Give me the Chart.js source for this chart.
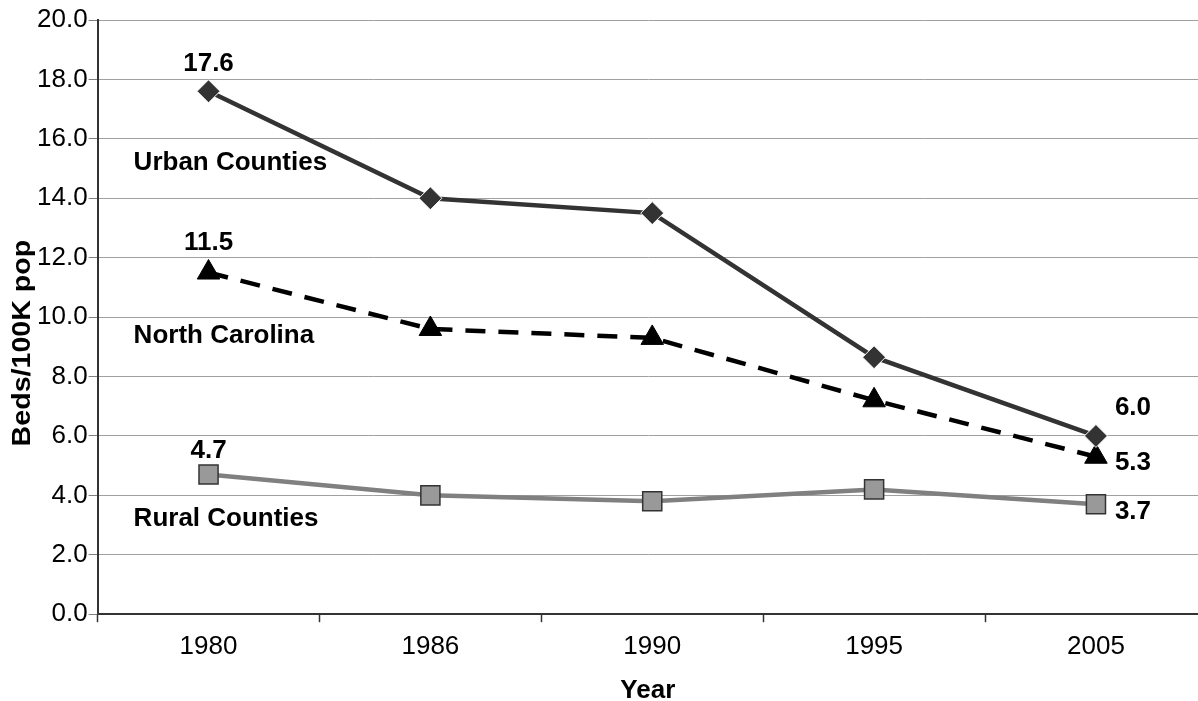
<!DOCTYPE html>
<html lang="en">
<head>
<meta charset="UTF-8">
<title>Beds per 100K population</title>
<script src="https://cdn.jsdelivr.net/npm/chart.js@4.4.0/dist/chart.umd.min.js"></script>
<style>
  html, body { margin: 0; padding: 0; background: #fff; overflow: hidden; }
  #wrap { position: relative; width: 1198px; height: 701px; }
  canvas { display: block; }
</style>
</head>
<body>
<div id="wrap"><canvas id="canvas"></canvas></div>
<script>
    const years = ["1980", "1986", "1990", "1995", "2005"];
    const urban = [17.6, 14.0, 13.5, 8.65, 6.0];
    const northCarolina = [11.5, 9.6, 9.3, 7.2, 5.3];
    const rural = [4.7, 4.0, 3.8, 4.2, 3.7];
    const yTicks = [0, 2, 4, 6, 8, 10, 12, 14, 16, 18, 20];

    const FONT = '"Liberation Sans", Arial, sans-serif';

    function toPoints(values) {
        return values.map((v, i) => ({x: i, y: v}));
    }

    // value labels at both ends of each line + series name on the left
    const labelPlugin = {
        id: 'lineLabels',
        afterDatasetsDraw(chart) {
            const ctx = chart.ctx;
            const area = chart.chartArea;
            const yScale = chart.scales.y;
            ctx.save();
            ctx.font = 'bold 26px ' + FONT;
            ctx.fillStyle = '#000';
            ctx.textBaseline = 'middle';
            chart.data.datasets.forEach((ds, i) => {
                const pts = chart.getDatasetMeta(i).data;
                const first = pts[0];
                const last = pts[pts.length - 1];
                ctx.textAlign = 'center';
                ctx.fillText(ds.data[0].y.toFixed(1), first.x, first.y + ds.startDy);
                ctx.fillText(ds.data[ds.data.length - 1].y.toFixed(1), last.x + 37, last.y + ds.endDy);
                ctx.textAlign = 'left';
                ctx.fillText(ds.label, area.left + 36, yScale.getPixelForValue(ds.nameAt));
            });
            ctx.restore();
        },
        // y title sits a bit below the axis middle, like the original
        afterDraw(chart) {
            const ctx = chart.ctx;
            const area = chart.chartArea;
            ctx.save();
            ctx.translate(23, area.top + (area.bottom - area.top) / 2 + 26);
            ctx.rotate(-Math.PI / 2);
            ctx.scale(1.1, 1);
            ctx.font = 'bold 26px ' + FONT;
            ctx.fillStyle = '#000';
            ctx.textAlign = 'center';
            ctx.textBaseline = 'middle';
            ctx.fillText('Beds/100K pop', 0, 0);
            ctx.restore();
        }
    };

    const chart = new Chart('canvas', {
        type: 'line',
        data: {
            datasets: [
                {
                    label: 'Urban Counties',
                    data: toPoints(urban),
                    borderColor: '#333333',
                    borderWidth: 4.5,
                    pointStyle: 'rectRot',
                    pointRadius: 11.5,
                    pointBackgroundColor: '#333333',
                    pointBorderColor: '#ffffff',
                    pointBorderWidth: 1,
                    startDy: -27, endDy: -28, nameAt: 15.2
                },
                {
                    label: 'North Carolina',
                    data: toPoints(northCarolina),
                    borderColor: '#000000',
                    borderWidth: 4.5,
                    borderDash: [20, 13],
                    pointStyle: 'triangle',
                    pointRadius: 13,
                    pointBackgroundColor: '#000000',
                    pointBorderColor: '#000000',
                    pointBorderWidth: 1,
                    startDy: -30, endDy: 6, nameAt: 9.36
                },
                {
                    label: 'Rural Counties',
                    data: toPoints(rural),
                    borderColor: '#808080',
                    borderWidth: 4.5,
                    pointStyle: 'rect',
                    pointRadius: 13.5,
                    pointBackgroundColor: '#999999',
                    pointBorderColor: '#333333',
                    pointBorderWidth: 1.5,
                    startDy: -24, endDy: 8, nameAt: 3.2
                }
            ]
        },
        options: {
            responsive: true,
            maintainAspectRatio: false,
            animation: false,
            layout: {autoPadding: false, padding: {left: 36, right: 0, top: 20, bottom: 0}},
            plugins: {
                legend: {display: false},
                tooltip: {enabled: false}
            },
            scales: {
                x: {
                    type: 'linear',
                    min: -0.5,
                    max: 4.46,   // original plot is cropped just past 2005
                    // tick marks between the years, labels on the years
                    afterBuildTicks: (scale) => {
                        const t = [];
                        for (let v = -0.5; v <= 4; v += 0.5) t.push({value: v});
                        scale.ticks = t;
                    },
                    grid: {
                        drawOnChartArea: false,
                        tickLength: 8,
                        tickWidth: 1.5,
                        tickColor: (c) => (c.tick && c.tick.value % 1 !== 0) ? '#333333' : 'rgba(0,0,0,0)'
                    },
                    border: {color: '#333333', width: 2},
                    ticks: {
                        autoSkip: false,
                        maxRotation: 0,
                        padding: 12,
                        color: '#000',
                        font: {family: FONT, size: 26, lineHeight: 1},
                        callback: (v) => Number.isInteger(v) ? years[v] : ''
                    },
                    title: {
                        display: true,
                        text: 'Year',
                        color: '#000',
                        font: {family: FONT, size: 26, weight: 'bold', lineHeight: 0.8},
                        padding: {top: 8, bottom: 0}
                    }
                },
                y: {
                    min: 0,
                    max: 20,
                    afterBuildTicks: (scale) => {
                        scale.ticks = yTicks.map(v => ({value: v}));
                    },
                    grid: {
                        color: '#a0a0a0',
                        lineWidth: 1,
                        tickLength: 9,
                        tickColor: '#808080'
                    },
                    border: {color: '#333333', width: 2},
                    ticks: {
                        padding: 1,
                        color: '#000',
                        font: {family: FONT, size: 26},
                        callback: (v) => v.toFixed(1)
                    },
                    title: {display: false}
                }
            }
        },
        plugins: [labelPlugin]
    });
</script>
</body>
</html>
